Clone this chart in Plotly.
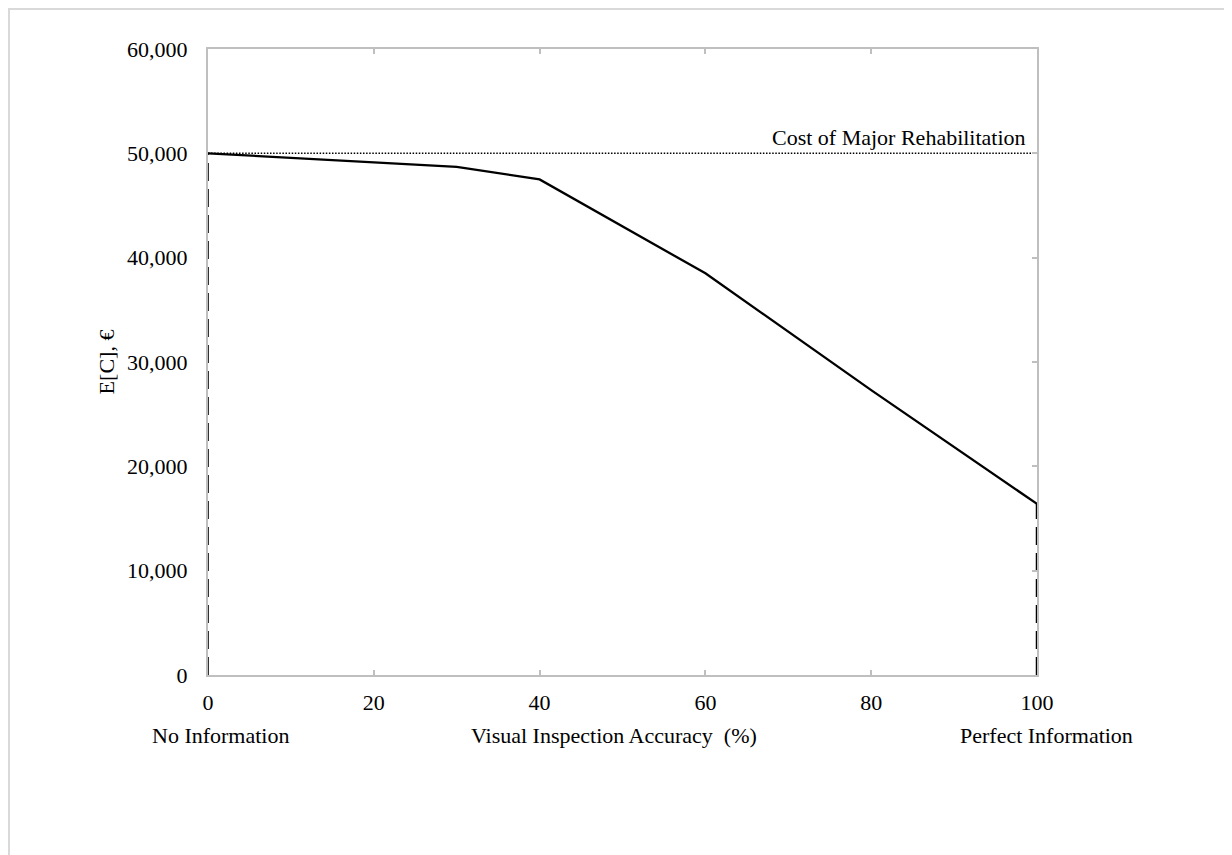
import plotly.graph_objects as go

# Data
accuracy = [0, 30, 40, 60, 80, 100]
expected_cost = [50000, 48700, 47500, 38500, 27300, 16400]
rehab_cost = 50000
rehab_x = [0, 100]
x_ticks = [0, 20, 40, 60, 80, 100]
y_ticks = [0, 10000, 20000, 30000, 40000, 50000, 60000]

FONT = "Liberation Serif"
FS = 22
AX = "#bfbfbf"

# plot-area geometry (figure pixels)
L, T, PW, PH = 200, 41, 829, 626
W, H = 1232, 855

fig = go.Figure()

# dotted reference line
fig.add_trace(go.Scatter(x=rehab_x, y=[rehab_cost, rehab_cost], mode="lines",
                         line=dict(color="black", width=1.5, dash="1.5px,1.6px"),
                         hoverinfo="skip", showlegend=False))
# dashed verticals at the ends
fig.add_trace(go.Scatter(x=[accuracy[0], accuracy[0]], y=[0, expected_cost[0]], mode="lines",
                         line=dict(color="black", width=1.6, dash="18px,8px"),
                         hoverinfo="skip", showlegend=False))
fig.add_trace(go.Scatter(x=[accuracy[-1], accuracy[-1]], y=[0, expected_cost[-1]], mode="lines",
                         line=dict(color="black", width=2.5, dash="18px,8px"),
                         hoverinfo="skip", showlegend=False))
# main line
fig.add_trace(go.Scatter(x=accuracy, y=expected_cost, mode="lines",
                         line=dict(color="black", width=2.3),
                         showlegend=False))
# invisible trace for right-side tick axis
fig.add_trace(go.Scatter(x=accuracy, y=expected_cost, mode="lines", yaxis="y2",
                         line=dict(color="rgba(0,0,0,0)", width=0),
                         hoverinfo="skip", showlegend=False))

tf = dict(family=FONT, size=FS, color="black")

fig.update_layout(
    width=W, height=H,
    margin=dict(l=L, r=W - L - PW, t=T, b=H - T - PH),
    paper_bgcolor="white", plot_bgcolor="white",
    font=tf,
    xaxis=dict(range=[0, 100], tickvals=x_ticks, ticktext=[str(v) for v in x_ticks],
               showgrid=False, zeroline=False, showline=True, linecolor=AX, linewidth=2,
               mirror="ticks", ticks="inside", ticklen=5, tickcolor=AX, tickwidth=2,
               ticklabelstandoff=7, tickfont=tf),
    yaxis=dict(range=[0, 60000], tickvals=y_ticks, tickformat=",",
               showgrid=False, zeroline=False, showline=True, linecolor=AX, linewidth=2,
               mirror=True, ticks="", ticklabelstandoff=14, tickfont=tf,
               title=dict(text="E[C], €", font=tf, standoff=6)),
    yaxis2=dict(range=[0, 60000], tickvals=y_ticks, overlaying="y", side="right",
                showgrid=False, zeroline=False, showline=False, showticklabels=False,
                ticks="inside", ticklen=5, tickcolor=AX, tickwidth=2),
    annotations=[
        dict(text="Cost of Major Rehabilitation", x=100, y=rehab_cost, xref="x", yref="y",
             xanchor="right", yanchor="bottom", xshift=-9, yshift=1, showarrow=False,
             font=tf),
        dict(text="No Information", x=-0.07, y=-0.096, xref="paper", yref="paper",
             xanchor="left", yanchor="middle", showarrow=False, font=tf),
        dict(text="Visual Inspection Accuracy  (%)", x=0.4903, y=-0.096, xref="paper", yref="paper",
             xanchor="center", yanchor="middle", showarrow=False, font=tf),
        dict(text="Perfect Information", x=1.0109, y=-0.096, xref="paper", yref="paper",
             xanchor="center", yanchor="middle", showarrow=False, font=tf),
    ],
    shapes=[
        dict(type="rect", xref="paper", yref="paper",
             x0=(1 - L) / PW, x1=(W + 20 - L) / PW,
             y0=(T + PH - (H + 20)) / PH, y1=(T + PH - 1) / PH,
             line=dict(color="#d9d9d9", width=2), fillcolor="rgba(0,0,0,0)", layer="below"),
    ],
)

fig.write_html("out.html")
